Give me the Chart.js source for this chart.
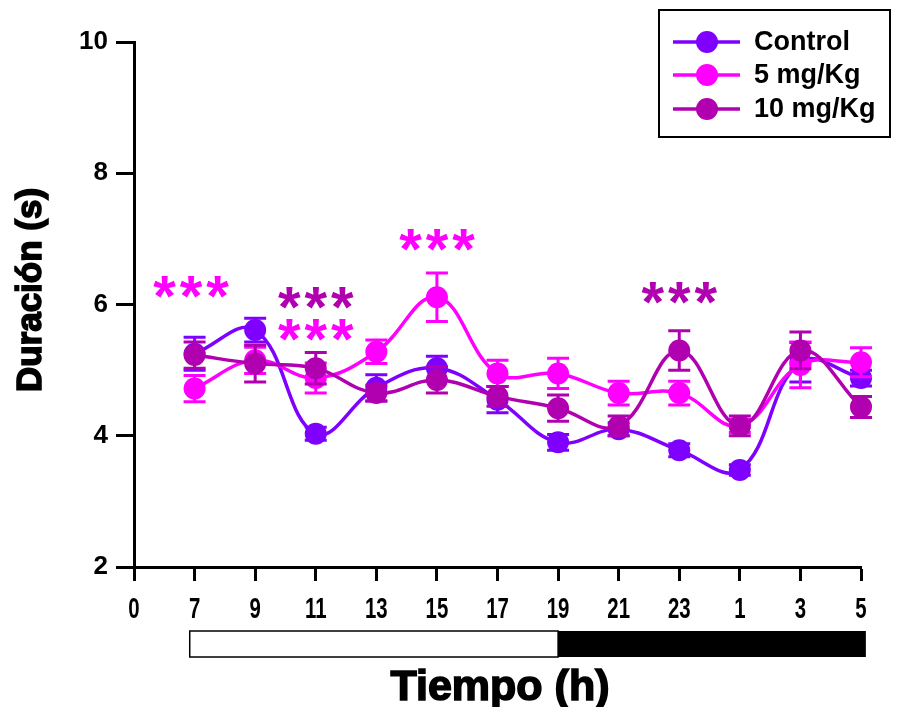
<!DOCTYPE html>
<html><head><meta charset="utf-8">
<script src="https://cdn.jsdelivr.net/npm/chart.js@4/dist/chart.umd.min.js"></script>
<style>html,body{margin:0;padding:0;background:#fff}#wrap{width:901px;height:707px;position:relative}</style>
</head><body><div id="wrap"><canvas id="c"></canvas></div>
<script>
// ---- data ----
const timeLabels = ['0','7','9','11','13','15','17','19','21','23','1','3','5'];
const seriesNames = ['Control','5 mg/Kg','10 mg/Kg'];
const seriesColors = ['#7F00FF','#FF00FF','#B000B0'];
const controlMean = [5.25,5.61,4.03,4.73,5.03,4.55,3.9,4.1,3.78,3.48,5.12,4.88];
const controlErr  = [0.25,0.18,0.1,0.2,0.18,0.2,0.12,0.1,0.1,0.08,0.3,0.12];
const dose5Mean   = [4.72,5.15,4.88,5.28,6.11,4.95,4.95,4.65,4.65,4.15,5.08,5.12];
const dose5Err    = [0.2,0.2,0.23,0.18,0.37,0.2,0.23,0.18,0.18,0.1,0.35,0.22];
const dose10Mean  = [5.23,5.1,5.03,4.65,4.85,4.6,4.42,4.15,5.3,4.15,5.3,4.44];
const dose10Err   = [0.2,0.28,0.24,0.12,0.2,0.15,0.2,0.15,0.3,0.15,0.28,0.16];
const yTicks = [2,4,6,8,10];
// significance marks: x (position on time axis), y (value), series index
const starX = [0.94, 3, 3, 5, 9];
const starY = [6.27, 6.10, 5.61, 6.98, 6.18];
const starSeries = [1, 2, 1, 1, 2];
// light/dark bar
const lightStart = 0.92, lightEnd = 7, darkEnd = 12.08;

const means = [controlMean, dose5Mean, dose10Mean];
const errs = [controlErr, dose5Err, dose10Err];

const datasets = means.map((m, s) => ({
  label: seriesNames[s],
  data: m.map((v, i) => ({x: i + 1, y: v})),
  errors: errs[s],
  borderColor: seriesColors[s],
  backgroundColor: seriesColors[s],
  pointBackgroundColor: seriesColors[s],
  pointBorderColor: seriesColors[s],
  pointRadius: 11,
  pointBorderWidth: 0,
  borderWidth: 3.5,
  tension: 0.4,
  clip: false,
  order: 3 - s
}));

const errorBarPlugin = {
  id: 'errbars',
  beforeDatasetDraw(chart, args) {
    const ds = chart.data.datasets[args.index];
    const {ctx, scales: {x, y}} = chart;
    ctx.save();
    ctx.strokeStyle = ds.borderColor;
    ctx.lineWidth = 3;
    ctx.lineCap = 'butt';
    ds.data.forEach((p, i) => {
      const e = ds.errors[i];
      const px = x.getPixelForValue(p.x);
      const t = y.getPixelForValue(p.y + e), b = y.getPixelForValue(p.y - e);
      ctx.beginPath();
      ctx.moveTo(px, t); ctx.lineTo(px, b);
      ctx.moveTo(px - 11, t); ctx.lineTo(px + 11, t);
      ctx.moveTo(px - 11, b); ctx.lineTo(px + 11, b);
      ctx.stroke();
    });
    ctx.restore();
  }
};

const decorPlugin = {
  id: 'decor',
  afterDraw(chart) {
    const {ctx, scales: {x, y}} = chart;
    ctx.save();
    // condensed x tick labels
    ctx.fillStyle = '#000';
    ctx.font = 'bold 30px "Liberation Sans", Arial, sans-serif';
    ctx.textAlign = 'center';
    ctx.textBaseline = 'middle';
    x.ticks.forEach((t, i) => {
      const px = x.getPixelForValue(t.value);
      ctx.save();
      ctx.translate(px, 610);
      ctx.scale(0.68, 1);
      ctx.fillText(timeLabels[i], 0, 0);
      ctx.restore();
    });
    // significance asterisks
    ctx.font = 'bold 58px "Liberation Sans", Arial, sans-serif';
    ctx.textAlign = 'center';
    ctx.textBaseline = 'alphabetic';
    starX.forEach((sx, k) => {
      const cx = x.getPixelForValue(sx), cy = y.getPixelForValue(starY[k]);
      const m = ctx.measureText('*');
      const off = (m.actualBoundingBoxAscent - m.actualBoundingBoxDescent) / 2;
      ctx.fillStyle = seriesColors[starSeries[k]];
      for (let j = -1; j <= 1; j++) ctx.fillText('*', cx + j * 26.5, cy + off);
    });
    // light/dark bar
    const y0 = 631, h = 26;
    const xa = x.getPixelForValue(lightStart), xb = x.getPixelForValue(lightEnd), xc = x.getPixelForValue(darkEnd);
    ctx.fillStyle = '#000';
    ctx.fillRect(xb, y0, xc - xb, h);
    ctx.strokeStyle = '#000';
    ctx.lineWidth = 1.5;
    ctx.strokeRect(xa, y0, xb - xa, h);
    // axis titles
    ctx.fillStyle = '#000';
    ctx.font = 'bold 43px "Liberation Sans", Arial, sans-serif';
    ctx.textAlign = 'center';
    ctx.textBaseline = 'middle';
    ctx.lineWidth = 1.6;
    ctx.strokeStyle = '#000';
    ctx.fillText('Tiempo (h)', 500, 688);
    ctx.strokeText('Tiempo (h)', 500, 688);
    ctx.save();
    ctx.translate(31, 290);
    ctx.rotate(-Math.PI / 2);
    ctx.font = 'bold 35px "Liberation Sans", Arial, sans-serif';
    ctx.fillText('Duración (s)', 0, 0);
    ctx.strokeText('Duración (s)', 0, 0);
    ctx.restore();
    // legend
    ctx.lineWidth = 2;
    ctx.strokeStyle = '#000';
    ctx.strokeRect(659, 10, 231, 127);
    ctx.font = 'bold 27px "Liberation Sans", Arial, sans-serif';
    ctx.textAlign = 'left';
    ctx.textBaseline = 'middle';
    const ly = [42, 75, 109];
    seriesNames.forEach((n, s) => {
      ctx.strokeStyle = seriesColors[s];
      ctx.lineWidth = 3.5;
      ctx.beginPath(); ctx.moveTo(673, ly[s]); ctx.lineTo(740, ly[s]); ctx.stroke();
      ctx.fillStyle = seriesColors[s];
      ctx.beginPath(); ctx.arc(707, ly[s], 11, 0, Math.PI * 2); ctx.fill();
      ctx.fillStyle = '#000';
      ctx.fillText(n, 754, ly[s] + 1);
    });
    ctx.restore();
  }
};

new Chart(document.getElementById('c'), {
  type: 'line',
  data: {datasets},
  plugins: [errorBarPlugin, decorPlugin],
  options: {
    responsive: true,
    maintainAspectRatio: false,
    animation: false,
    layout: {padding: {left: 0, top: 42, right: 40, bottom: 0}},
    plugins: {legend: {display: false}, tooltip: {enabled: false}},
    scales: {
      x: {
        type: 'linear', min: 0, max: 12,
        afterFit(s) { s.height = 140; },
        afterBuildTicks(s) { s.ticks = timeLabels.map((_, i) => ({value: i})); },
        ticks: {
          display: false,
          autoSkip: false
        },
        grid: {drawOnChartArea: false, tickLength: 14, tickWidth: 3, color: '#000'},
        border: {color: '#000', width: 3}
      },
      y: {
        type: 'linear', min: 2, max: 10,
        afterFit(s) { s.width = 134; },
        afterBuildTicks(s) { s.ticks = yTicks.map(v => ({value: v})); },
        ticks: {
          color: '#000',
          font: {family: '"Liberation Sans", Arial', size: 26, weight: 'bold'},
          padding: 8
        },
        grid: {drawOnChartArea: false, tickLength: 18, tickWidth: 3, color: '#000'},
        border: {color: '#000', width: 3}
      }
    }
  }
});
</script>
</body></html>
